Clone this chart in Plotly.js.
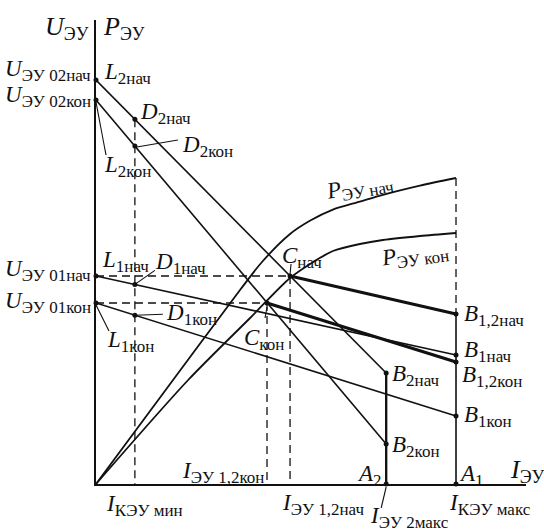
<!DOCTYPE html>
<html>
<head>
<meta charset="utf-8">
<script src="https://cdn.plot.ly/plotly-3.0.1.min.js"></script>
<style>html,body{margin:0;padding:0;background:#fff}</style>
</head>
<body>
<div id="chart" style="width:544px;height:532px"></div>
<script>
// Currents in relative units (I_КЭУ макс = 100), voltage and power in relative units.
const iKeuMin = 10.8;   // I_КЭУ мин
const iKeuMax = 100;    // I_КЭУ макс
const iEu2Max = 80.6;   // I_ЭУ 2макс
const iAxisEnd = 119.44;
const uAxisEnd = 116;

// Load characteristics L → B: voltage at zero current and at the end current
const lineNames = ['2нач', '2кон', '1нач', '1кон'];
const lineU0 = [101, 96, 52, 45.25];
const lineIEnd = [80.6, 80.6, 100, 100];
const lineUEnd = [27.75, 10, 32.25, 17];
const lineUAtMin = [91.2, 84.5, 49.9, 42.2];   // points D at I_КЭУ мин

// Joint operation C → B1,2
const jointNames = ['нач', 'кон'];
const jointI = [53.9, 47.5];
const jointU = [52, 45.25];
const jointUEnd = [42.5, 30.5];

// Power curves P_ЭУ(I)
const pNachI = [0, 21.4, 40, 46.1, 53.9, 59.4, 65.8, 73.3, 79.7, 90, 100];
const pNachP = [0, 26, 48.5, 55.5, 62.5, 65.8, 68.6, 70.6, 72.3, 74.6, 76.5];
const pKonI = [0, 25.6, 42.8, 53.9, 60.8, 65.8, 73.3, 79.7, 90, 100];
const pKonP = [0, 26, 41.5, 51.5, 55.75, 58.25, 60, 61, 62, 62.75];

const FONT = 'Liberation Serif, Times New Roman, serif';
const INK = '#111';
const DASH = '8px,5px';

const traces = [];
function seg(x, y, width, dash) {
  traces.push({x: x, y: y, type: 'scatter', mode: 'lines', hoverinfo: 'skip',
    line: {color: INK, width: width, dash: dash || 'solid'}, showlegend: false});
}

// load lines
for (let k = 0; k < lineNames.length; k++) {
  seg([0, lineIEnd[k]], [lineU0[k], lineUEnd[k]], 1.6);
}
// joint lines (thick)
for (let k = 0; k < jointNames.length; k++) {
  seg([jointI[k], iKeuMax], [jointU[k], jointUEnd[k]], 3);
}
// power curves
traces.push({x: pNachI, y: pNachP, type: 'scatter', mode: 'lines', hoverinfo: 'skip', showlegend: false,
  line: {color: INK, width: 1.8, shape: 'spline', smoothing: 0.8}});
traces.push({x: pKonI, y: pKonP, type: 'scatter', mode: 'lines', hoverinfo: 'skip', showlegend: false,
  line: {color: INK, width: 1.8, shape: 'spline', smoothing: 0.8}});

// verticals to the current axis
seg([iEu2Max, iEu2Max], [lineUEnd[0], 0], 2.4);
seg([iKeuMax, iKeuMax], [jointUEnd[0], 0], 1.6);

// dashed construction lines
seg([iKeuMin, iKeuMin], [lineUAtMin[0], 0], 1.3, DASH);
for (let k = 0; k < jointNames.length; k++) {
  seg([0, jointI[k]], [jointU[k], jointU[k]], 1.3, DASH);
  seg([jointI[k], jointI[k]], [jointU[k], 0], 1.3, DASH);
}
seg([iKeuMax, iKeuMax], [pNachP[pNachP.length - 1], jointUEnd[0]], 1.3, DASH);

// named points
const pts = {};
lineNames.forEach((n, k) => {
  pts['L' + n] = [0, lineU0[k]];
  pts['D' + n] = [iKeuMin, lineUAtMin[k]];
  pts['B' + n] = [lineIEnd[k], lineUEnd[k]];
});
jointNames.forEach((n, k) => {
  pts['C' + n] = [jointI[k], jointU[k]];
  pts['B1,2' + n] = [iKeuMax, jointUEnd[k]];
});
pts['A2'] = [iEu2Max, 0];
pts['A1'] = [iKeuMax, 0];

const dotNames = Object.keys(pts);
traces.push({x: dotNames.map(n => pts[n][0]), y: dotNames.map(n => pts[n][1]),
  type: 'scatter', mode: 'markers', hoverinfo: 'skip', showlegend: false, cliponaxis: false,
  marker: {color: INK, size: 5}});

function sym(letter, sub, subSize) {
  return '<i>' + letter + '</i><sub><span style="font-size:' + (subSize || 17) + 'px">' + sub + '</span></sub>';
}

const annotations = [];
function lab(x, y, text, xanchor, xshift, yshift, extra) {
  annotations.push(Object.assign({x: x, y: y, xref: 'x', yref: 'y', text: text, showarrow: false,
    xanchor: xanchor, yanchor: 'middle', xshift: xshift, yshift: yshift,
    font: {family: FONT, size: 23, color: INK}}, extra || {}));
}
function labAt(name, text, xanchor, xshift, yshift, extra) {
  lab(pts[name][0], pts[name][1], text, xanchor, xshift, yshift, extra);
}

// axis titles
const big = {font: {family: FONT, size: 26, color: INK}};
lab(0, uAxisEnd, sym('U', 'ЭУ', 18), 'right', -5, -8, big);
lab(0, uAxisEnd, sym('P', 'ЭУ', 18), 'left', 5, -8, big);
lab(iAxisEnd, 0, sym('I', 'ЭУ', 18), 'left', -18, 13, big);

// voltage labels on the U axis
labAt('L2нач', sym('U', 'ЭУ 02нач'), 'right', -3, 10);
labAt('L2кон', sym('U', 'ЭУ 02кон'), 'right', -3, 4);
labAt('L1нач', sym('U', 'ЭУ 01нач'), 'right', -3, 6);
labAt('L1кон', sym('U', 'ЭУ 01кон'), 'right', -3, 1);

// L and D labels
labAt('L2нач', sym('L', '2нач'), 'left', 6, 7);
labAt('L2кон', sym('L', '2кон'), 'left', 6, -66);
labAt('L1нач', sym('L', '1нач'), 'left', 4, 15);
labAt('L1кон', sym('L', '1кон'), 'left', 9, -38);
labAt('D2нач', sym('D', '2нач'), 'left', 3, 6);
labAt('D2кон', sym('D', '2кон'), 'left', 45, 0);
labAt('D1нач', sym('D', '1нач'), 'left', 18, 21);
labAt('D1кон', sym('D', '1кон'), 'left', 29, 1);

// C labels
labAt('Cнач', sym('C', 'нач'), 'left', -10, 19);
labAt('Cкон', sym('C', 'кон'), 'left', -25, -36);

// B labels
labAt('B1,2нач', sym('B', '1,2нач'), 'left', 6, -1);
labAt('B1нач', sym('B', '1нач'), 'left', 6, 4);
labAt('B1,2кон', sym('B', '1,2кон'), 'left', 4, -14);
labAt('B1кон', sym('B', '1кон'), 'left', 6, 0);
labAt('B2нач', sym('B', '2нач'), 'left', 4, -2);
labAt('B2кон', sym('B', '2кон'), 'left', 4, -2);

// A labels and current labels
labAt('A2', sym('A', '2'), 'right', -2, 9);
labAt('A1', sym('A', '1'), 'left', 1, 9);
lab(jointI[1], 0, sym('I', 'ЭУ 1,2кон'), 'right', -1, 12);
lab(iKeuMin, 0, sym('I', 'КЭУ мин'), 'left', -31, -21);
lab(jointI[0], 0, sym('I', 'ЭУ 1,2нач'), 'left', -10, -20);
lab(iKeuMax, 0, sym('I', 'КЭУ макс'), 'left', -9, -20);
lab(iEu2Max, 0, sym('I', 'ЭУ 2макс'), 'left', -18, -33);

// power curve labels
lab(pNachI[7], pNachP[7], sym('P', 'ЭУ нач'), 'center', 0, 14, {textangle: -10});
lab(pKonI[8], pKonP[8], sym('P', 'ЭУ кон'), 'center', -5, -19, {textangle: -8});

// thin leader lines, in pixels relative to a point
const shapes = [];
function leader(name, x0, y0, x1, y1, paperY) {
  const s = {type: 'line', xref: 'x', xsizemode: 'pixel', xanchor: pts[name][0],
    ysizemode: 'pixel', x0: x0, x1: x1, y0: y0, y1: y1,
    line: {color: INK, width: 1.1}};
  if (paperY) { s.yref = 'paper'; s.yanchor = 0; } else { s.yref = 'y'; s.yanchor = pts[name][1]; }
  shapes.push(s);
}
leader('L2кон', 0, -2, 10, -55);
leader('D2кон', 2, -1, 43, 6);
leader('D1нач', 0, 0, 20, 14);
leader('D1кон', 0, 0, 28, 1);
leader('L1кон', 0, -2, 13, -28);
leader('Cнач', 0, 2, 1, 12);
leader('Cкон', 0, -4, -2, -15);
leader('A2', 0, -3, -5, -24, true);

const layout = {
  width: 544, height: 532,
  margin: {l: 96, r: 18, t: 20, b: 48, pad: 0},
  paper_bgcolor: '#fff', plot_bgcolor: '#fff',
  showlegend: false,
  xaxis: {range: [0, iAxisEnd], showline: true, linecolor: INK, linewidth: 2,
    showgrid: false, zeroline: false, showticklabels: false, ticks: '', fixedrange: true},
  yaxis: {range: [0, uAxisEnd], showline: true, linecolor: INK, linewidth: 2,
    showgrid: false, zeroline: false, showticklabels: false, ticks: '', fixedrange: true},
  annotations: annotations,
  shapes: shapes
};

Plotly.newPlot('chart', traces, layout, {staticPlot: true, displayModeBar: false});
</script>
</body>
</html>
